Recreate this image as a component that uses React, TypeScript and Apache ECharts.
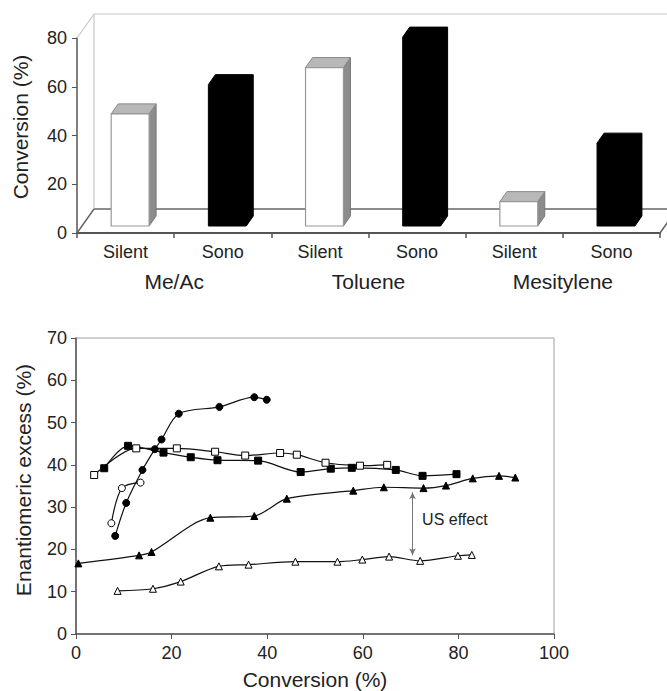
import React, { useEffect, useRef } from 'react';
import * as echarts from 'echarts';

// ---------- Top chart data ----------
const barCategories = ['Silent', 'Sono', 'Silent', 'Sono', 'Silent', 'Sono'];
const solventLabels = ['Me/Ac', 'Toluene', 'Mesitylene'];
const conversionValues = [46, 58, 65, 77.5, 10, 34];

// ---------- Bottom chart data ([conversion %, ee %]) ----------
const filledCircles = [
  [8.2, 23.2], [10.5, 31], [13.9, 38.8], [16.5, 43.7], [17.9, 46], [21.5, 52.1],
  [30, 53.7], [37.3, 56], [39.9, 55.4],
];
const filledSquares = [
  [5.9, 39.2], [10.9, 44.5], [18.3, 42.9], [24, 41.8], [29.6, 41.1], [38.1, 41],
  [47, 38.3], [53.3, 39.1], [57.7, 39.3], [66.9, 38.8], [72.5, 37.4], [79.6, 37.8],
];
const openSquares = [
  [3.8, 37.6], [12.6, 43.9], [21.1, 43.9], [29.1, 43.1], [35.4, 42.2], [42.7, 42.8],
  [46.2, 42.4], [52.2, 40.5], [59.4, 39.8], [65.1, 40.0],
];
const openCircles = [[7.4, 26.2], [9.6, 34.5], [13.5, 35.8]];
const filledTriangles = [
  [0.5, 16.7], [13.2, 18.6], [15.8, 19.4], [28.1, 27.5], [37.3, 27.9], [44.1, 32],
  [58, 33.9], [64.4, 34.7], [72.7, 34.5], [77.4, 35.1], [83, 36.8], [88.5, 37.4], [91.9, 37],
];
const openTriangles = [
  [8.7, 10.2], [16.1, 10.7], [21.9, 12.4], [29.9, 16], [36.1, 16.4], [45.9, 17.1],
  [54.7, 17.1], [59.9, 17.6], [65.5, 18.3], [72, 17.3], [79.9, 18.5], [82.8, 18.7],
];
const usEffectArrow = [[70.4, 33.5], [70.4, 18.6]];
const usEffectLabelAt = [72.4, 27.1];

const FONT = "'Liberation Sans', Arial, sans-serif";
const DEPTH_X = 17;
const DEPTH_Y = 24;

export default function App() {
  const ref = useRef<HTMLDivElement>(null);

  useEffect(() => {
    const chart = echarts.init(ref.current as HTMLDivElement, null, { renderer: 'svg' });

    const lineSeries = (data: number[][], symbol: string, filled: boolean, size = 7) => ({
      type: 'line',
      xAxisIndex: 2,
      yAxisIndex: 1,
      data,
      smooth: 0.3,
      symbol,
      symbolSize: size,
      showSymbol: true,
      lineStyle: { color: '#111', width: 1.2 },
      itemStyle: { color: filled ? '#000' : '#fff', borderColor: '#000', borderWidth: 1 },
      z: 3,
    });

    const option: any = {
      animation: false,
      textStyle: { fontFamily: FONT },
      grid: [
        { left: 77, top: 38, width: 583, height: 195 },
        {
          left: 76, top: 338, width: 478, height: 298,
          show: true, borderColor: '#a0a0a0', borderWidth: 1, backgroundColor: 'transparent',
        },
      ],
      xAxis: [
        {
          type: 'category', gridIndex: 0, data: barCategories,
          axisLine: { lineStyle: { color: '#555', width: 2 } },
          axisTick: { show: true, length: 5, lineStyle: { color: '#555', width: 1.5 } },
          axisLabel: { color: '#222', fontSize: 18, margin: 10, fontFamily: FONT },
        },
        {
          type: 'category', gridIndex: 0, data: solventLabels, position: 'bottom', offset: 30,
          axisLine: { show: false }, axisTick: { show: false },
          axisLabel: { color: '#222', fontSize: 21, margin: 8, fontFamily: FONT },
        },
        {
          type: 'value', gridIndex: 1, min: 0, max: 100, interval: 20,
          name: 'Conversion (%)', nameLocation: 'middle', nameGap: 35,
          nameTextStyle: { color: '#222', fontSize: 21, fontFamily: FONT },
          axisLine: { show: true, lineStyle: { color: '#555', width: 1.5 } },
          axisTick: { show: true, length: 5, lineStyle: { color: '#555' } },
          axisLabel: { color: '#222', fontSize: 18, margin: 10, fontFamily: FONT },
          splitLine: { show: false },
        },
      ],
      yAxis: [
        {
          type: 'value', gridIndex: 0, min: 0, max: 80, interval: 20,
          axisLine: { show: true, lineStyle: { color: '#555', width: 1.5 } },
          axisTick: { show: true, length: 5, lineStyle: { color: '#555' } },
          axisLabel: { color: '#222', fontSize: 18, margin: 10, fontFamily: FONT },
          splitLine: { show: false },
        },
        {
          type: 'value', gridIndex: 1, min: 0, max: 70, interval: 10,
          axisLine: { show: true, lineStyle: { color: '#555', width: 1.5 } },
          axisTick: { show: true, length: 5, lineStyle: { color: '#555' } },
          axisLabel: { color: '#222', fontSize: 18, margin: 9, fontFamily: FONT },
          splitLine: { show: false },
        },
      ],
      graphic: [
        {
          type: 'text', x: 20, y: 127, rotation: Math.PI / 2,
          style: {
            text: 'Conversion (%)', fontSize: 21, fontFamily: FONT, fill: '#222',
            textAlign: 'center', textVerticalAlign: 'middle',
          },
        },
        {
          type: 'text', x: 23, y: 480, rotation: Math.PI / 2,
          style: {
            text: 'Enantiomeric excess (%)', fontSize: 21, fontFamily: FONT, fill: '#222',
            textAlign: 'center', textVerticalAlign: 'middle',
          },
        },
      ],
      series: [
        // 3D frame (walls / floor) of the top chart
        {
          type: 'custom', xAxisIndex: 0, yAxisIndex: 0, data: [[0, 0]], clip: false, silent: true, z: 1,
          renderItem: (params: any) => {
            const cs = params.coordSys;
            const x = cs.x, y = cs.y, w = cs.width, h = cs.height;
            const wall = { stroke: '#c8c8c8', lineWidth: 1.2 };
            const floor = { stroke: '#666', lineWidth: 1.5 };
            return {
              type: 'group',
              children: [
                { type: 'line', shape: { x1: x, y1: y, x2: x + DEPTH_X, y2: y - DEPTH_Y }, style: wall },
                { type: 'line', shape: { x1: x + DEPTH_X, y1: y - DEPTH_Y, x2: x + w + DEPTH_X, y2: y - DEPTH_Y }, style: wall },
                { type: 'line', shape: { x1: x + DEPTH_X, y1: y - DEPTH_Y, x2: x + DEPTH_X, y2: y + h - DEPTH_Y }, style: wall },
                { type: 'line', shape: { x1: x, y1: y + h, x2: x + DEPTH_X, y2: y + h - DEPTH_Y }, style: floor },
                { type: 'line', shape: { x1: x + DEPTH_X, y1: y + h - DEPTH_Y, x2: x + w + DEPTH_X, y2: y + h - DEPTH_Y }, style: floor },
                { type: 'line', shape: { x1: x + w, y1: y + h, x2: x + w + DEPTH_X, y2: y + h - DEPTH_Y }, style: floor },
              ],
            };
          },
        },
        // 3D bars
        {
          type: 'custom', xAxisIndex: 0, yAxisIndex: 0, clip: false, z: 2,
          data: conversionValues.map((v, i) => [i, v]),
          encode: { x: 0, y: 1 },
          renderItem: (params: any, api: any) => {
            const idx = api.value(0);
            const v = api.value(1);
            const top = api.coord([idx, v]);
            const base = api.coord([idx, 0]);
            const band = api.size([1, 0])[0];
            const w = band * 0.39;
            const sx = band * 0.047;
            const sy = 7;
            const dx = 7;
            const dy = 10;
            const x0 = top[0] - w / 2 + sx;
            const x1 = x0 + w;
            const yt = top[1] - sy;
            const yb = base[1] - sy;
            const isSono = barCategories[idx] === 'Sono';
            if (isSono) {
              return {
                type: 'polygon',
                shape: {
                  points: [
                    [x0, yb], [x0, yt], [x0 + dx, yt - dy], [x1 + dx, yt - dy], [x1 + dx, yb - dy], [x1, yb],
                  ],
                },
                style: { fill: '#000', stroke: '#000', lineWidth: 1 },
              };
            }
            return {
              type: 'group',
              children: [
                {
                  type: 'polygon',
                  shape: { points: [[x1, yt], [x1 + dx, yt - dy], [x1 + dx, yb - dy], [x1, yb]] },
                  style: { fill: '#8c8c8c', stroke: '#777', lineWidth: 1 },
                },
                {
                  type: 'polygon',
                  shape: { points: [[x0, yt], [x0 + dx, yt - dy], [x1 + dx, yt - dy], [x1, yt]] },
                  style: { fill: '#b8b8b8', stroke: '#888', lineWidth: 1 },
                },
                {
                  type: 'rect',
                  shape: { x: x0, y: yt, width: w, height: yb - yt },
                  style: { fill: '#fff', stroke: '#999', lineWidth: 1.2 },
                },
              ],
            };
          },
        },
        lineSeries(filledCircles, 'circle', true),
        lineSeries(openCircles, 'circle', false),
        lineSeries(filledSquares, 'rect', true),
        lineSeries(openSquares, 'rect', false),
        {
          ...lineSeries(filledTriangles, 'triangle', true),
          markPoint: {
            symbol: 'circle', symbolSize: 0, silent: true,
            label: {
              show: true, position: 'right', distance: 0, formatter: 'US effect',
              color: '#222', fontSize: 16, fontFamily: FONT,
            },
            data: [{ coord: usEffectLabelAt }],
          },
        },
        {
          ...lineSeries(openTriangles, 'triangle', false),
          markLine: {
            silent: true, symbol: ['arrow', 'arrow'], symbolSize: [5, 7],
            lineStyle: { color: '#777', width: 1, type: 'solid' },
            label: { show: false },
            data: [[{ coord: usEffectArrow[0] }, { coord: usEffectArrow[1] }]],
          },
        },
      ],
    };

    chart.setOption(option);
    return () => chart.dispose();
  }, []);

  return (
    <div
      ref={ref}
      style={{ position: 'absolute', left: 0, top: 0, width: 667, height: 691, background: '#fff' }}
    />
  );
}
